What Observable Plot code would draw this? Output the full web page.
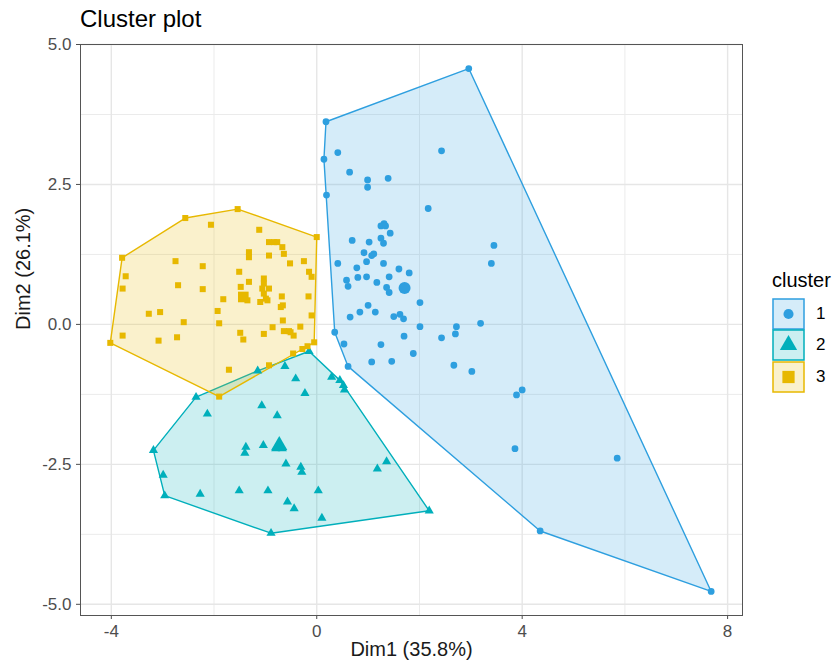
<!DOCTYPE html>
<html>
<head>
<meta charset="utf-8">
<script src="https://cdn.jsdelivr.net/npm/d3@7"></script>
<script src="https://cdn.jsdelivr.net/npm/@observablehq/plot@0.6"></script>
<style>
  body { margin: 0; background: #fff; font-family: "Liberation Sans", Arial, Helvetica, sans-serif; }
  #wrap { position: relative; width: 835px; height: 666px; }
  #title { position: absolute; left: 80px; top: 5px; font-size: 24px; line-height: 28px; color: #000; }
  #legend { position: absolute; left: 772px; top: 268px; }
  #legend .lt { font-size: 20px; line-height: 24px; height: 30px; color: #000; }
  #legend .row { display: flex; align-items: center; height: 31.5px; }
  #legend .row span { margin-left: 10px; font-size: 17px; color: #000; }
</style>
</head>
<body>
<div id="wrap">
  <div id="title">Cluster plot</div>
  <div id="legend"></div>
</div>
<script>
const clusters = ["1", "2", "3"];
const clusterColors = ["#2E9FDF", "#00AFBB", "#E7B800"];
const clusterSymbols = ["circle", "triangle", "square"];
const xTicks = [-4, 0, 4, 8];
const yTicks = [-5, -2.5, 0, 2.5, 5];
const xGridMinor = [-2, 2, 6];
const yGridMinor = [-3.75, -1.25, 1.25, 3.75];

const cluster1X = [2.96, 0.18, 0.14, 0.19, 0.41, 0.64, 0.99, 0.99, 1.39, 2.43, 2.17, 1.31, 1.25, 1.34, 1.43, 1.25, 1.30, 0.69, 1.02, 3.45, 0.92, 1.11, 1.07, 3.40, 0.41, 0.97, 1.30, 0.78, 1.60, 1.80, 0.58, 0.61, 0.80, 0.97, 1.17, 1.41, 1.36, 1.41, 2.01, 0.65, 0.84, 1.00, 1.14, 1.50, 1.62, 1.69, 2.01, 2.72, 2.70, 3.19, 2.43, 0.35, 0.53, 0.61, 1.25, 1.70, 1.88, 1.07, 1.46, 2.67, 3.02, 3.89, 4.00, 3.86, 5.85, 4.35, 7.68];
const cluster1Y = [4.57, 3.62, 2.95, 2.31, 3.07, 2.72, 2.58, 2.45, 2.61, 3.10, 2.07, 1.80, 1.76, 1.76, 1.63, 1.54, 1.45, 1.50, 1.47, 1.41, 1.28, 1.26, 1.23, 1.09, 1.09, 1.12, 1.09, 1.01, 0.99, 0.92, 0.79, 0.68, 0.84, 0.85, 0.75, 0.85, 0.66, 0.57, 0.39, 0.13, 0.22, 0.34, 0.22, 0.14, 0.18, 0.10, -0.04, -0.04, -0.17, 0.02, -0.24, -0.14, -0.35, -0.75, -0.36, -0.21, -0.52, -0.67, -0.66, -0.73, -0.84, -1.26, -1.17, -2.22, -2.39, -3.69, -4.77];

const cluster2X = [-0.15, 0.54, 2.19, -0.89, -2.96, -3.18, -2.35, -1.15, -0.62, -0.41, 0.29, 0.45, 0.52, -0.23, -2.13, -1.07, -0.77, -1.38, -1.40, -1.04, -0.80, -0.67, -0.60, -0.31, -0.29, -2.99, -2.27, -1.51, -0.95, 0.03, -0.57, -0.44, 0.10, 1.18, 1.36];
const cluster2Y = [-0.48, -1.17, -3.33, -3.73, -3.06, -2.25, -1.30, -0.83, -0.75, -0.97, -0.94, -1.00, -1.09, -1.23, -1.60, -1.45, -1.63, -2.19, -2.30, -2.16, -2.22, -2.22, -2.49, -2.55, -2.64, -2.69, -3.03, -2.97, -2.97, -2.97, -3.17, -3.29, -3.46, -2.58, -2.45];

const cluster3X = [-4.02, -3.79, -2.56, -1.54, 0.00, -0.05, -1.90, -2.06, -1.12, -0.93, -0.83, -0.77, -0.67, -0.64, -1.32, -1.32, -0.93, -0.52, -0.25, -2.75, -2.22, -3.72, -3.78, -2.70, -2.22, -1.51, -0.15, -0.10, -1.32, -1.03, -1.03, -1.06, -0.93, -1.03, -1.48, -1.46, -1.35, -1.10, -0.96, -0.99, -0.68, -0.16, -1.82, -0.70, -0.66, -1.93, -3.27, -3.05, -0.10, -2.59, -1.90, -0.66, -0.86, -0.32, -0.64, -0.54, -0.45, -0.51, -3.78, -3.08, -2.72, -1.49, -1.43, -1.03, -0.28, -0.18, -0.46, -0.93, -1.71];
const cluster3Y = [-0.33, 1.19, 1.90, 2.06, 1.56, -0.32, -1.29, 1.78, 1.69, 1.47, 1.47, 1.47, 1.38, 1.26, 1.29, 1.20, 1.23, 1.09, 1.13, 1.13, 1.04, 0.86, 0.64, 0.70, 0.63, 0.94, 0.94, 0.85, 0.76, 0.82, 0.73, 0.64, 0.64, 0.55, 0.67, 0.50, 0.43, 0.40, 0.43, 0.46, 0.50, 0.50, 0.45, 0.31, 0.34, 0.24, 0.19, 0.22, 0.16, 0.04, 0.02, 0.07, -0.05, -0.04, -0.12, -0.12, -0.20, -0.14, -0.20, -0.29, -0.23, -0.15, -0.27, -0.17, -0.44, -0.39, -0.52, -0.73, -0.81];

const centroidX = [1.71, -0.73, -1.43];
const centroidY = [0.65, -2.16, 0.49];

const points = [];
[[cluster1X, cluster1Y], [cluster2X, cluster2Y], [cluster3X, cluster3Y]].forEach(([xs, ys], i) => {
  xs.forEach((x, j) => points.push({x, y: ys[j], cluster: clusters[i]}));
});
const centers = clusters.map((c, i) => ({x: centroidX[i], y: centroidY[i], cluster: c}));

const chart = Plot.plot({
  width: 835,
  height: 666,
  marginLeft: 80,
  marginRight: 93,
  marginTop: 44,
  marginBottom: 51,
  style: {fontFamily: "'Liberation Sans', Arial, Helvetica, sans-serif", fontSize: "17px", color: "#4d4d4d", background: "transparent"},
  x: {domain: [-4.6, 8.29], ticks: xTicks, tickFormat: d => String(d), tickSize: 4, tickPadding: 5, label: null},
  y: {domain: [-5.2, 5.0], ticks: yTicks, tickFormat: d => d.toFixed(1), tickSize: 4, tickPadding: 5, label: null},
  color: {domain: clusters, range: clusterColors},
  symbol: {domain: clusters, range: clusterSymbols},
  marks: [
    Plot.ruleX(xGridMinor, {stroke: "#ebebeb", strokeWidth: 1}),
    Plot.ruleY(yGridMinor, {stroke: "#ebebeb", strokeWidth: 1}),
    Plot.ruleX(xTicks, {stroke: "#e6e6e6", strokeWidth: 1.4}),
    Plot.ruleY(yTicks, {stroke: "#e6e6e6", strokeWidth: 1.4}),
    Plot.hull(points, {x: "x", y: "y", fill: "cluster", stroke: "cluster", fillOpacity: 0.2, strokeWidth: 1.4}),
    Plot.dot(points, {x: "x", y: "y", fill: "cluster", symbol: "cluster", r: 3.4}),
    Plot.dot(centers, {x: "x", y: "y", fill: "cluster", symbol: "cluster", r: 6}),
    Plot.frame({stroke: "#555", strokeWidth: 1}),
    Plot.text(["Dim1 (35.8%)"], {text: d => d, frameAnchor: "bottom", dy: 40, fontSize: 20, fill: "#1a1a1a"}),
    Plot.text(["Dim2 (26.1%)"], {text: d => d, frameAnchor: "left", dx: -57, rotate: -90, fontSize: 20, fill: "#1a1a1a"})
  ]
});
document.getElementById("wrap").prepend(chart);

// Legend
const legend = document.getElementById("legend");
const lt = document.createElement("div");
lt.className = "lt";
lt.textContent = "cluster";
legend.appendChild(lt);
const legendSymbols = [[d3.symbolCircle, 80], [d3.symbolTriangle, 130], [d3.symbolSquare, 150]];
clusters.forEach((c, i) => {
  const row = document.createElement("div");
  row.className = "row";
  const svg = d3.create("svg").attr("width", 34).attr("height", 32);
  svg.append("rect").attr("x", 1).attr("y", 1).attr("width", 31).attr("height", 30)
    .attr("fill", clusterColors[i]).attr("fill-opacity", 0.2)
    .attr("stroke", clusterColors[i]).attr("stroke-width", 1.5);
  svg.append("path").attr("transform", "translate(16.5,16)")
    .attr("d", d3.symbol(legendSymbols[i][0], legendSymbols[i][1])())
    .attr("fill", clusterColors[i]);
  row.appendChild(svg.node());
  const lab = document.createElement("span");
  lab.textContent = c;
  row.appendChild(lab);
  legend.appendChild(row);
});
</script>
</body>
</html>
